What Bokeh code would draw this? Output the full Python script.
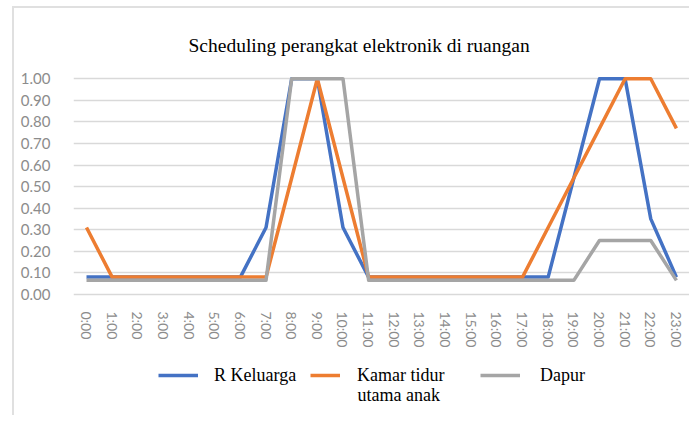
from bokeh.plotting import figure
from bokeh.models import (Range1d, FixedTicker, NumeralTickFormatter, Legend, LegendItem, Label)
from bokeh.layouts import column
from bokeh.embed import file_html
from bokeh.resources import INLINE

hours = list(range(24))
hour_labels = [f"{h}:00" for h in hours]
r_keluarga = [0.08, 0.08, 0.08, 0.08, 0.08, 0.08, 0.08, 0.31, 1.00, 1.00, 0.31, 0.08,
              0.08, 0.08, 0.08, 0.08, 0.08, 0.08, 0.08, 0.54, 1.00, 1.00, 0.35, 0.08]
kamar_tidur = [0.31, 0.08, 0.08, 0.08, 0.08, 0.08, 0.08, 0.08, 0.54, 1.00, 0.54, 0.08,
               0.08, 0.08, 0.08, 0.08, 0.08, 0.08, 0.31, 0.54, 0.77, 1.00, 1.00, 0.77]
dapur = [0.065, 0.065, 0.065, 0.065, 0.065, 0.065, 0.065, 0.065, 1.00, 1.00, 1.00, 0.065,
         0.065, 0.065, 0.065, 0.065, 0.065, 0.065, 0.065, 0.065, 0.25, 0.25, 0.25, 0.065]
y_ticks = [0.0, 0.1, 0.2, 0.3, 0.4, 0.5, 0.6, 0.7, 0.8, 0.9, 1.0]
series_names = ["R Keluarga", "Kamar tidur", "Dapur"]
series_name_2nd_line = "utama anak"
title_text = "Scheduling perangkat elektronik di ruangan"

colors = ["#4472C4", "#ED7D31", "#A5A5A5"]
SERIF = "Liberation Serif"
SANS = "Lato"
W = 675
X_RANGE = (-0.507, 23.51)

# title strip (frame aligned with the chart's frame)
tt = figure(width=W, height=50, output_backend="svg", toolbar_location=None,
            x_range=Range1d(*X_RANGE), y_range=Range1d(0, 1),
            x_axis_type=None, y_axis_type=None, min_border=0)
tt.outline_line_color = None
tt.grid.visible = False
tt.add_layout(Label(x=115, y=13, x_units="screen", y_units="screen", text=title_text,
                    text_font=SERIF, text_font_size="19.5px", text_color="black",
                    text_baseline="alphabetic", text_align="left"))

p = figure(width=W, height=292, output_backend="svg", toolbar_location=None,
           x_range=Range1d(*X_RANGE), y_range=Range1d(-0.01, 1.02),
           min_border_left=59, min_border_right=0, min_border_top=16, min_border_bottom=53)
p.outline_line_color = None

p.yaxis.ticker = FixedTicker(ticks=y_ticks)
p.yaxis.formatter = NumeralTickFormatter(format="0.00")
p.yaxis.axis_line_color = None
p.yaxis.major_tick_line_color = None
p.yaxis.minor_tick_line_color = None
p.yaxis.major_label_standoff = 17
p.yaxis.major_label_text_font = SANS
p.yaxis.major_label_text_font_size = "15px"
p.yaxis.major_label_text_color = "#8C8C8C"

p.xaxis.ticker = FixedTicker(ticks=hours)
p.xaxis.major_label_overrides = {h: lab for h, lab in zip(hours, hour_labels)}
p.xaxis.major_label_orientation = "vertical"
p.xaxis.axis_line_color = None
p.xaxis.major_tick_line_color = None
p.xaxis.minor_tick_line_color = None
p.xaxis.major_label_standoff = 9
p.xaxis.major_label_text_font = SANS
p.xaxis.major_label_text_font_size = "14px"
p.xaxis.major_label_text_color = "#8C8C8C"

p.xgrid.grid_line_color = None
p.ygrid.grid_line_color = "#D9D9D9"
p.ygrid.grid_line_width = 1.5
p.ygrid.ticker = FixedTicker(ticks=y_ticks)

series = [r_keluarga, kamar_tidur, dapur]
for ys, c in zip(series, colors):
    p.line(hours, ys, line_color=c, line_width=3.5, line_join="round")

# legend strip: a second figure (frame aligned with the chart's frame); its lines
# lie outside its y range, so only the legend shows
lg = figure(width=W, height=65, output_backend="svg", toolbar_location=None,
            x_range=Range1d(*X_RANGE), y_range=Range1d(5, 6),
            x_axis_type=None, y_axis_type=None, min_border=0)
lg.outline_line_color = None
lg.grid.visible = False
leg_renderers = [lg.line(hours, ys, line_color=c, line_width=3.5) for ys, c in zip(series, colors)]

leg_specs = [(85, 40, 16), (237, 30, 17), (407, 40, 20)]
for name, r, (lx, gw, st) in zip(series_names, leg_renderers, leg_specs):
    leg = Legend(items=[LegendItem(label=name, renderers=[r])], location=(lx, 29),
                 orientation="horizontal", padding=0, margin=0, spacing=0,
                 glyph_width=gw, glyph_height=22, label_standoff=st,
                 border_line_color=None, background_fill_alpha=0,
                 label_text_font=SERIF, label_text_font_size="18px",
                 label_text_color="black")
    lg.add_layout(leg, "center")

lg.add_layout(Label(x=284, y=21, x_units="screen", y_units="screen", text=series_name_2nd_line,
                    text_font=SERIF, text_font_size="18px", text_color="black",
                    text_baseline="middle", text_align="left"))

layout = column(tt, p, lg, spacing=0, margin=(6, 0, 0, 12),
                styles={"border-left": "2px solid #E0E0E0", "border-top": "2px solid #E0E0E0"})

open("out.html", "w").write(file_html(layout, INLINE))
